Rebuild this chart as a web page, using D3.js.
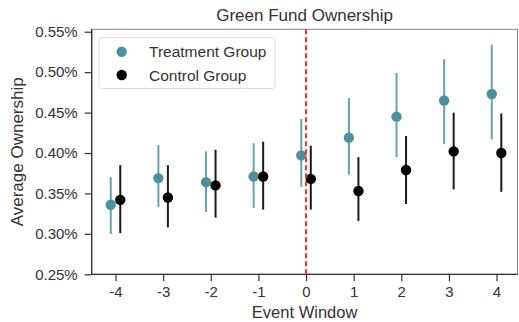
<!DOCTYPE html>
<html>
<head>
<meta charset="utf-8">
<script src="https://cdn.jsdelivr.net/npm/d3@7.9.0/dist/d3.min.js"></script>
<style>
  body { margin: 0; background: #fff; }
  svg { display: block; font-family: "Liberation Sans", Arial, sans-serif; }
</style>
</head>
<body>
<svg width="519" height="322"></svg>
<script>
// event window
const windows = [-4, -3, -2, -1, 0, 1, 2, 3, 4];

// treatment group: mean and 95% band (in %)
const treatMean = [0.336, 0.369, 0.364, 0.371, 0.397, 0.419, 0.445, 0.465, 0.473];
const treatLow  = [0.300, 0.333, 0.327, 0.332, 0.358, 0.373, 0.395, 0.411, 0.417];
const treatHigh = [0.370, 0.410, 0.402, 0.412, 0.442, 0.468, 0.499, 0.516, 0.534];

// control group
const ctrlMean = [0.342, 0.345, 0.360, 0.371, 0.368, 0.353, 0.379, 0.402, 0.400];
const ctrlLow  = [0.301, 0.308, 0.320, 0.330, 0.330, 0.316, 0.337, 0.355, 0.352];
const ctrlHigh = [0.385, 0.385, 0.404, 0.414, 0.409, 0.395, 0.421, 0.450, 0.449];

const yTicks = [0.25, 0.30, 0.35, 0.40, 0.45, 0.50, 0.55];

let svg = d3.select('svg');

let x = d3.scaleLinear().domain([-4.5, 4.44]).range([91.7, 517.5]);
let y = d3.scaleLinear().domain([0.25, 0.553]).range([274.3, 29.3]);

const teal = '#4a929e';
const tealBar = '#65a3ad';

// frame
svg.append('rect')
  .attr('x', x(-4.5)).attr('y', y(0.553))
  .attr('width', x(4.44) - x(-4.5)).attr('height', y(0.25) - y(0.553))
  .attr('fill', 'none').attr('stroke', '#888').attr('stroke-width', 1);
svg.append('line')
  .attr('x1', x(-4.5)).attr('x2', x(-4.5)).attr('y1', y(0.553)).attr('y2', y(0.25))
  .attr('stroke', '#333').attr('stroke-width', 1.3);
svg.append('line')
  .attr('x1', x(-4.5)).attr('x2', x(4.44)).attr('y1', y(0.25)).attr('y2', y(0.25))
  .attr('stroke', '#333').attr('stroke-width', 1.3);

// axes
let yAxis = svg.append('g')
  .attr('transform', `translate(${x(-4.5)},0)`)
  .call(d3.axisLeft(y).tickValues(yTicks).tickSize(7).tickPadding(7)
    .tickFormat(d => d3.format('.2f')(d) + '%'));
let xAxis = svg.append('g')
  .attr('transform', `translate(0,${y(0.25)})`)
  .call(d3.axisBottom(x).tickValues(windows).tickSize(7).tickPadding(5)
    .tickFormat(d => d));

[yAxis, xAxis].forEach(ax => {
  ax.select('.domain').remove();
  ax.selectAll('line').attr('stroke', '#333').attr('stroke-width', 1.2);
  ax.selectAll('text').attr('fill', '#333').style('font-size', '15px')
    .style('font-family', '"Liberation Sans", Arial, sans-serif');
});

const off = 0.1;

// treatment
windows.forEach((w, i) => {
  svg.append('line')
    .attr('x1', x(w - off)).attr('x2', x(w - off))
    .attr('y1', y(treatLow[i])).attr('y2', y(treatHigh[i]))
    .attr('stroke', tealBar).attr('stroke-width', 2);
  svg.append('circle')
    .attr('cx', x(w - off)).attr('cy', y(treatMean[i])).attr('r', 5.2)
    .attr('fill', teal);
});

// control
windows.forEach((w, i) => {
  svg.append('line')
    .attr('x1', x(w + off)).attr('x2', x(w + off))
    .attr('y1', y(ctrlLow[i])).attr('y2', y(ctrlHigh[i]))
    .attr('stroke', '#1a1a1a').attr('stroke-width', 2);
  svg.append('circle')
    .attr('cx', x(w + off)).attr('cy', y(ctrlMean[i])).attr('r', 5.2)
    .attr('fill', '#000');
});

// event line
svg.append('line')
  .attr('x1', x(0)).attr('x2', x(0)).attr('y1', y(0.553)).attr('y2', y(0.25))
  .attr('stroke', '#ff2a2a').attr('stroke-width', 2).attr('stroke-dasharray', '5,3');

// legend
let legend = svg.append('g');
legend.append('rect')
  .attr('x', 99).attr('y', 37.5).attr('width', 176).attr('height', 51).attr('rx', 3)
  .attr('fill', '#fff').attr('fill-opacity', 0.8).attr('stroke', '#ddd');
const legItems = [['Treatment Group', teal], ['Control Group', '#000']];
legItems.forEach(([name, col], i) => {
  legend.append('circle').attr('cx', 121.7).attr('cy', 51.7 + i * 23.3).attr('r', 5.2).attr('fill', col);
  legend.append('text').attr('x', 149).attr('y', 51.7 + i * 23.3 + 5.5)
    .style('font-size', '15.5px').attr('fill', '#333').text(name);
});

// titles
svg.append('text').attr('x', (x(-4.5) + x(4.44)) / 2).attr('y', 20.5)
  .attr('text-anchor', 'middle').style('font-size', '17px').attr('fill', '#333')
  .text('Green Fund Ownership');
svg.append('text').attr('x', (x(-4.5) + x(4.44)) / 2).attr('y', 318)
  .attr('text-anchor', 'middle').style('font-size', '16.5px').attr('fill', '#333')
  .text('Event Window');
svg.append('text')
  .attr('transform', `translate(23,${(y(0.25) + y(0.553)) / 2}) rotate(-90)`)
  .attr('text-anchor', 'middle').style('font-size', '17px').attr('fill', '#333')
  .text('Average Ownership');
</script>
</body>
</html>
